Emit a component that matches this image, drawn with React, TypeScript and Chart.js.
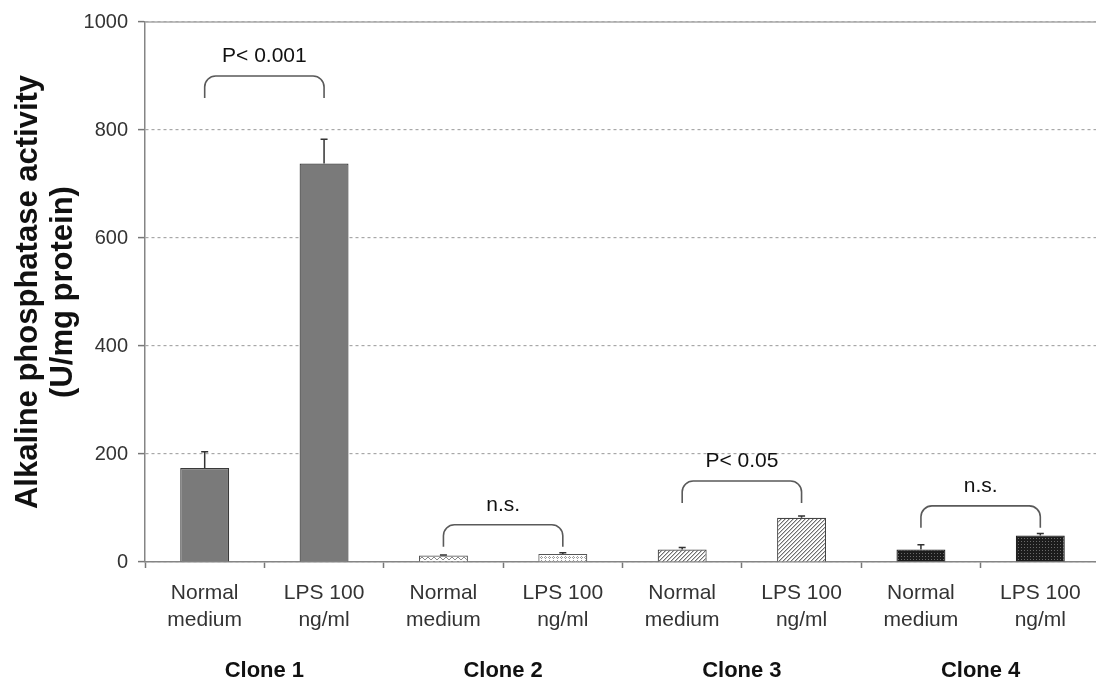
import { useEffect, useRef } from 'react';
import { Chart, registerables } from 'chart.js';

Chart.register(...registerables);

// Cell clones and the two culture conditions tested on each
const clones = ['Clone 1', 'Clone 2', 'Clone 3', 'Clone 4'];
const treatments = [['Normal', 'medium'], ['LPS 100', 'ng/ml']];

// ALP activity (U/mg protein), in clone order: normal medium, LPS 100 ng/ml
const activityMean = [174, 738, 12, 15, 23, 82, 23, 49];
// Upper error bar length (U/mg protein)
const activityError = [30, 45, 1, 2, 4, 3, 9, 4];

// Statistical comparison between the two conditions of each clone
const comparisonLabels = ['P< 0.001', 'n.s.', 'P< 0.05', 'n.s.'];
// Height of each comparison bracket (U/mg protein)
const bracketLevels = [900, 69, 150, 104];

const FONT = '"Liberation Sans", Arial, Helvetica, sans-serif';

function tile(w: number, h: number, paint: (g: CanvasRenderingContext2D) => void) {
  const c = document.createElement('canvas');
  c.width = w;
  c.height = h;
  const g = c.getContext('2d')!;
  paint(g);
  return c;
}

function makeFills(ctx: CanvasRenderingContext2D) {
  const solidGray = '#7a7a7a';

  const wave = ctx.createPattern(
    tile(6, 4, (g) => {
      g.fillStyle = '#ffffff';
      g.fillRect(0, 0, 6, 4);
      g.fillStyle = '#8a8a8a';
      g.fillRect(0, 2, 1, 1);
      g.fillRect(1, 1, 1, 1);
      g.fillRect(2, 1, 1, 1);
      g.fillRect(3, 2, 1, 1);
      g.fillRect(4, 3, 1, 1);
      g.fillRect(5, 3, 1, 1);
    }),
    'repeat'
  )!;

  const rings = ctx.createPattern(
    tile(4, 4, (g) => {
      g.fillStyle = '#ffffff';
      g.fillRect(0, 0, 4, 4);
      g.fillStyle = '#9a9a9a';
      g.fillRect(1, 0, 1, 1);
      g.fillRect(0, 1, 1, 1);
      g.fillRect(2, 1, 1, 1);
      g.fillRect(1, 2, 1, 1);
    }),
    'repeat'
  )!;

  const hatch = ctx.createPattern(
    tile(4, 4, (g) => {
      g.fillStyle = '#ffffff';
      g.fillRect(0, 0, 4, 4);
      g.fillStyle = '#6e6e6e';
      for (let i = 0; i < 4; i++) g.fillRect(i, 3 - i, 1, 1);
      g.fillStyle = '#c4c4c4';
      for (let i = 0; i < 4; i++) g.fillRect(i, (4 - i) % 4, 1, 1);
    }),
    'repeat'
  )!;

  const darkDots = ctx.createPattern(
    tile(3, 3, (g) => {
      g.fillStyle = '#1c1c1c';
      g.fillRect(0, 0, 3, 3);
      g.fillStyle = '#6a6a6a';
      g.fillRect(1, 1, 1, 1);
    }),
    'repeat'
  )!;

  return {
    fill: [solidGray, solidGray, wave, rings, hatch, hatch, darkDots, darkDots],
    border: ['#3a3a3a', '#3a3a3a', '#555555', '#555555', '#444444', '#444444', '#222222', '#222222'],
  };
}

// Error bars, significance brackets and the solid top rule of the plot
const annotationPlugin = {
  id: 'alpAnnotations',
  beforeDatasetsDraw(chart: any) {
    const { ctx, chartArea, scales } = chart;
    const y = scales.y.getPixelForValue(scales.y.max);
    ctx.save();
    ctx.strokeStyle = '#a8a8a8';
    ctx.lineWidth = 1.5;
    ctx.beginPath();
    ctx.moveTo(chartArea.left, y);
    ctx.lineTo(chartArea.right, y);
    ctx.stroke();
    ctx.restore();
  },
  afterDatasetsDraw(chart: any) {
    const { ctx, scales } = chart;
    const xs = scales.x;
    const ys = scales.y;
    ctx.save();

    // upward error bars with small caps
    ctx.strokeStyle = '#333333';
    ctx.lineWidth = 1.5;
    activityMean.forEach((m, i) => {
      const x = xs.getPixelForValue(i);
      const y0 = ys.getPixelForValue(m);
      const y1 = ys.getPixelForValue(m + activityError[i]);
      ctx.beginPath();
      ctx.moveTo(x, y0);
      ctx.lineTo(x, y1);
      ctx.moveTo(x - 3.5, y1);
      ctx.lineTo(x + 3.5, y1);
      ctx.stroke();
    });

    // brackets linking the two conditions of each clone
    const r = 11;
    const leg = 22;
    ctx.strokeStyle = '#5a5a5a';
    ctx.lineWidth = 1.6;
    ctx.fillStyle = '#111111';
    ctx.font = `21px ${FONT}`;
    ctx.textAlign = 'center';
    ctx.textBaseline = 'middle';
    bracketLevels.forEach((level, c) => {
      const x1 = xs.getPixelForValue(c * 2);
      const x2 = xs.getPixelForValue(c * 2 + 1);
      const yTop = ys.getPixelForValue(level);
      ctx.beginPath();
      ctx.moveTo(x1, yTop + leg);
      ctx.lineTo(x1, yTop + r);
      ctx.arcTo(x1, yTop, x1 + r, yTop, r);
      ctx.lineTo(x2 - r, yTop);
      ctx.arcTo(x2, yTop, x2, yTop + r, r);
      ctx.lineTo(x2, yTop + leg);
      ctx.stroke();
      ctx.fillText(comparisonLabels[c], (x1 + x2) / 2, yTop - 20);
    });

    ctx.restore();
  },
};

export default function App() {
  const canvasRef = useRef<HTMLCanvasElement>(null);

  useEffect(() => {
    document.body.style.margin = '0';
    document.body.style.overflow = 'hidden';
    const canvas = canvasRef.current!;
    const ctx = canvas.getContext('2d')!;
    const { fill, border } = makeFills(ctx);
    const categoryLabels = clones.flatMap(() => treatments);

    const chart = new Chart(canvas, {
      type: 'bar',
      data: {
        labels: categoryLabels as any,
        datasets: [
          {
            data: activityMean,
            backgroundColor: fill as any,
            borderColor: border,
            borderWidth: 1.2,
            borderSkipped: 'bottom',
            barPercentage: 0.41,
            categoryPercentage: 1,
          },
        ],
      },
      options: {
        responsive: false,
        animation: false,
        devicePixelRatio: 1,
        layout: { padding: { top: 19, left: 0, right: 0, bottom: 0 } },
        plugins: {
          legend: { display: false },
          tooltip: { enabled: false },
        },
        scales: {
          y: {
            min: 0,
            max: 1000,
            ticks: {
              stepSize: 200,
              padding: 10,
              color: '#333333',
              font: { family: FONT, size: 20 },
              callback: (v: any) => String(v),
            },
            grid: {
              color: '#a8a8a8',
              lineWidth: 1.2,
              tickLength: 7,
              tickColor: '#777777',
              tickWidth: 1.5,
            },
            border: { color: '#858585', width: 1.5, dash: [3, 3] },
            title: {
              display: true,
              text: ['Alkaline phosphatase activity', '(U/mg protein)'],
              color: '#111111',
              font: { family: FONT, size: 31, weight: 'bold', lineHeight: 1.13 },
              padding: { top: 10.5, bottom: 0 },
            },
            afterFit(scale: any) {
              scale.width = 145;
            },
          },
          x: {
            weight: 0,
            offset: true,
            grid: {
              display: true,
              offset: true,
              drawOnChartArea: false,
              tickLength: 6,
              tickColor: '#777777',
              tickWidth: 1.5,
            },
            border: { color: '#858585', width: 1.5 },
            ticks: {
              autoSkip: false,
              maxRotation: 0,
              padding: 11.5,
              color: '#333333',
              font: { family: FONT, size: 21, lineHeight: 1.29 },
            },
            afterFit(scale: any) {
              scale.height = 78;
            },
          },
          clone: {
            type: 'category',
            position: 'bottom',
            weight: 1,
            labels: clones,
            offset: true,
            grid: { display: false, drawTicks: false },
            border: { display: false },
            ticks: {
              autoSkip: false,
              maxRotation: 0,
              padding: 17.8,
              color: '#111111',
              font: { family: FONT, size: 22, weight: 'bold', lineHeight: 1.2 },
            },
            afterFit(scale: any) {
              scale.height = 44;
            },
          },
        },
      } as any,
      plugins: [annotationPlugin],
    });

    return () => chart.destroy();
  }, []);

  return (
    <div style={{ position: 'fixed', left: 0, top: 0, width: 1100, height: 684, background: '#ffffff' }}>
      <canvas ref={canvasRef} width={1100} height={684} style={{ display: 'block', width: 1100, height: 684 }} />
    </div>
  );
}
